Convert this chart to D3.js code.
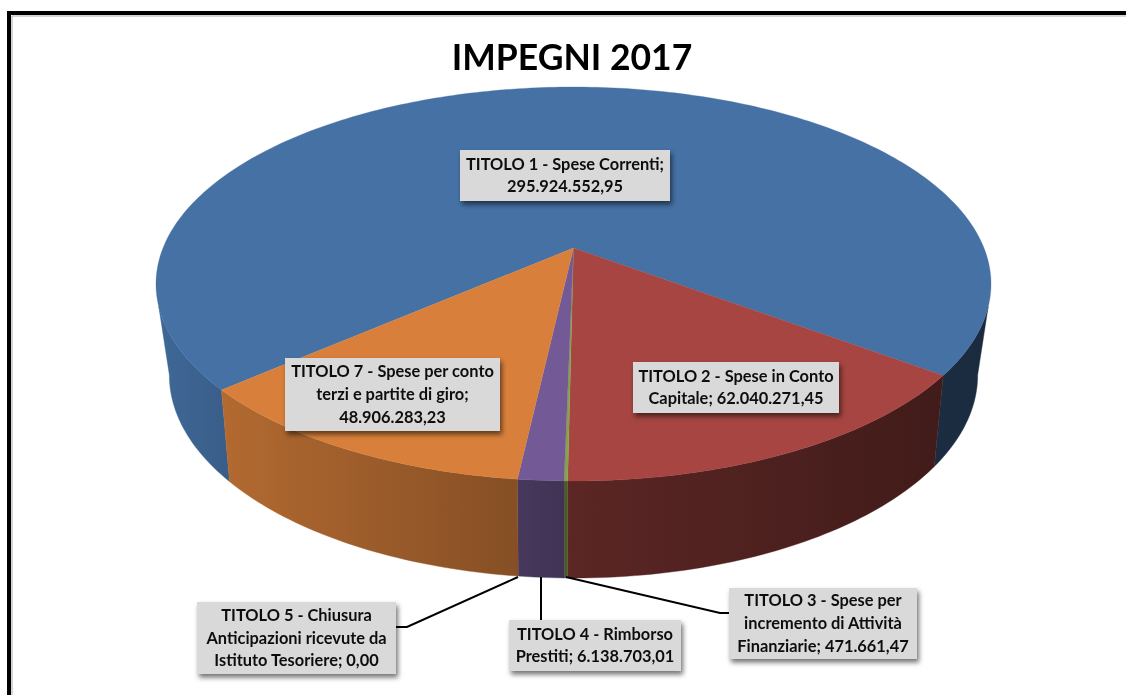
<!DOCTYPE html>
<html><head><meta charset="utf-8">
<script src="https://cdn.jsdelivr.net/npm/d3@7/dist/d3.min.js"></script>
<style>html,body{margin:0;padding:0;background:#fff;overflow:hidden}svg{display:block}
text{font-family:Lato,"Open Sans",sans-serif;font-weight:700;fill:#111}</style>
</head><body>
<script>
// Data
const titleText = "IMPEGNI 2017";
const categories = ["TITOLO 1","TITOLO 2","TITOLO 3","TITOLO 4","TITOLO 5","TITOLO 7"];
const values = [295924552.95, 62040271.45, 471661.47, 6138703.01, 0, 48906283.23];
const colors = ["#4571a5","#a64542","#87a24a","#735a96","#4aacc5","#d8803b"];
const labelLines = [
  ["TITOLO 1 - Spese Correnti;","295.924.552,95"],
  ["TITOLO 2 - Spese in Conto","Capitale; 62.040.271,45"],
  ["TITOLO 3 - Spese per","incremento di Attività","Finanziarie; 471.661,47"],
  ["TITOLO 4 - Rimborso","Prestiti; 6.138.703,01"],
  ["TITOLO 5 - Chiusura","Anticipazioni ricevute da","Istituto Tesoriere; 0,00"],
  ["TITOLO 7 - Spese per conto","terzi e partite di giro;","48.906.283,23"]
];
// layout: [x0, y0, x1, y1] for each label box, and optional leader polyline
const labelBoxes = [[460,150,670,201],[633,362,839,413],[729,588,917,659],[509,620,681,671],[197,602,396,674],[285,358,500,431]];
const leaders = [null,null,[[566,577],[720,613],[729,613]],[[541,577],[541,620]],[[518,577],[407,627],[396,627]],null];

const W=1126,H=695,rad=Math.PI/180;
const svg=d3.select("body").append("svg").attr("width",W).attr("height",H);
const defs=svg.append("defs");
const sh=defs.append("filter").attr("id","sh").attr("x","-10%").attr("y","-15%").attr("width","125%").attr("height","140%");
sh.append("feDropShadow").attr("dx",2).attr("dy",3.5).attr("stdDeviation",2.4).attr("flood-color","#000").attr("flood-opacity",.55);
defs.append("filter").attr("id","soft").append("feGaussianBlur").attr("stdDeviation",.35);

// frame: open at right and bottom
svg.append("path").attr("d",`M12 ${H}V16H${W}`).attr("fill","none").attr("stroke","#aaa").attr("stroke-width",1);
svg.append("path").attr("d",`M9 ${H}V13H${W}`).attr("fill","none").attr("stroke","#000").attr("stroke-width",4);

// perspective projection of the pie's top and bottom discs
const cx=573.5;
const top3=t=>{const x=Math.cos(t),z=Math.sin(t),s=1/(1-.1827*z);return [cx+410.5*x*s,248+190.4*z*s];};
const bot3=t=>{const x=Math.cos(t),z=Math.sin(t),s=1/(1-.2*z);return [cx+396*x*s,334.5+194.8*z*s];};

const pie=d3.pie().sort(null).startAngle(139*rad).endAngle(499*rad);
const arcs=pie(values);
const line=d3.line();
const samples=(f,a,b)=>{const n=Math.max(2,Math.ceil(Math.abs(b-a)/rad));return d3.range(n+1).map(i=>f(a+(b-a)*i/n));};

// wall shading gradients (lighter on the left)
const xShade=d3.scaleLinear().domain([157,230,515,570,930,990]).range([.92,.82,.62,.55,.40,.38]);
colors.forEach((c,i)=>{
  const g=defs.append("linearGradient").attr("id","w"+i).attr("gradientUnits","userSpaceOnUse").attr("x1",157).attr("x2",990).attr("y1",0).attr("y2",0);
  xShade.domain().forEach(x=>{
    const k=xShade(x),r=d3.rgb(c);
    g.append("stop").attr("offset",(x-157)/833).attr("stop-color",d3.rgb(r.r*k,r.g*k,r.b*k).formatHex());
  });
});

// walls, clipped to the visible front range
const visLo=17*rad,visHi=163*rad,botLo=11.5*rad,botHi=168.5*rad;
const walls=svg.append("g");
arcs.forEach((d,i)=>{
  if(d.value===0)return;
  [0,-2*Math.PI].forEach(shift=>{
    const lo=Math.max(d.startAngle+shift,visLo),hi=Math.min(d.endAngle+shift,visHi);
    if(hi<=lo)return;
    const bl=lo===visLo?botLo:lo,bh=hi===visHi?botHi:hi;
    const pts=samples(top3,lo,hi).concat(samples(bot3,bh,bl));
    walls.append("path").attr("d",line(pts)+"Z").attr("fill",`url(#w${i})`).attr("stroke",`url(#w${i})`).attr("stroke-width",.4);
  });
});

// top face sectors
const tops=svg.append("g");
arcs.forEach((d,i)=>{
  if(d.value===0)return;
  const pts=[[cx,248]].concat(samples(top3,d.startAngle,d.endAngle));
  tops.append("path").attr("d",line(pts)+"Z").attr("fill",colors[i]).attr("stroke",colors[i]).attr("stroke-width",.3);
});

// title
svg.append("text").attr("x",572).attr("y",70).attr("text-anchor","middle").attr("font-size",35.5).attr("filter","url(#soft)").text(titleText).style("fill","#000");

// leaders
leaders.forEach(l=>{ if(l) svg.append("path").attr("d",line(l)).attr("fill","none").attr("stroke","#000").attr("stroke-width",2); });

// labels
const fs=16.4,lh=22.6;
labelBoxes.forEach((b,i)=>{
  svg.append("rect").attr("x",b[0]).attr("y",b[1]).attr("width",b[2]-b[0]).attr("height",b[3]-b[1]).attr("fill","#d9d9d9").attr("filter","url(#sh)");
  const ls=labelLines[i],mid=(b[0]+b[2])/2,y0=(b[1]+b[3])/2-(ls.length-1)*lh/2+fs*.34;
  const t=svg.append("g").attr("filter","url(#soft)");
  ls.forEach((s,j)=>t.append("text").attr("x",mid).attr("y",y0+j*lh).attr("text-anchor","middle").attr("font-size",fs).text(s));
});
</script>
</body></html>
